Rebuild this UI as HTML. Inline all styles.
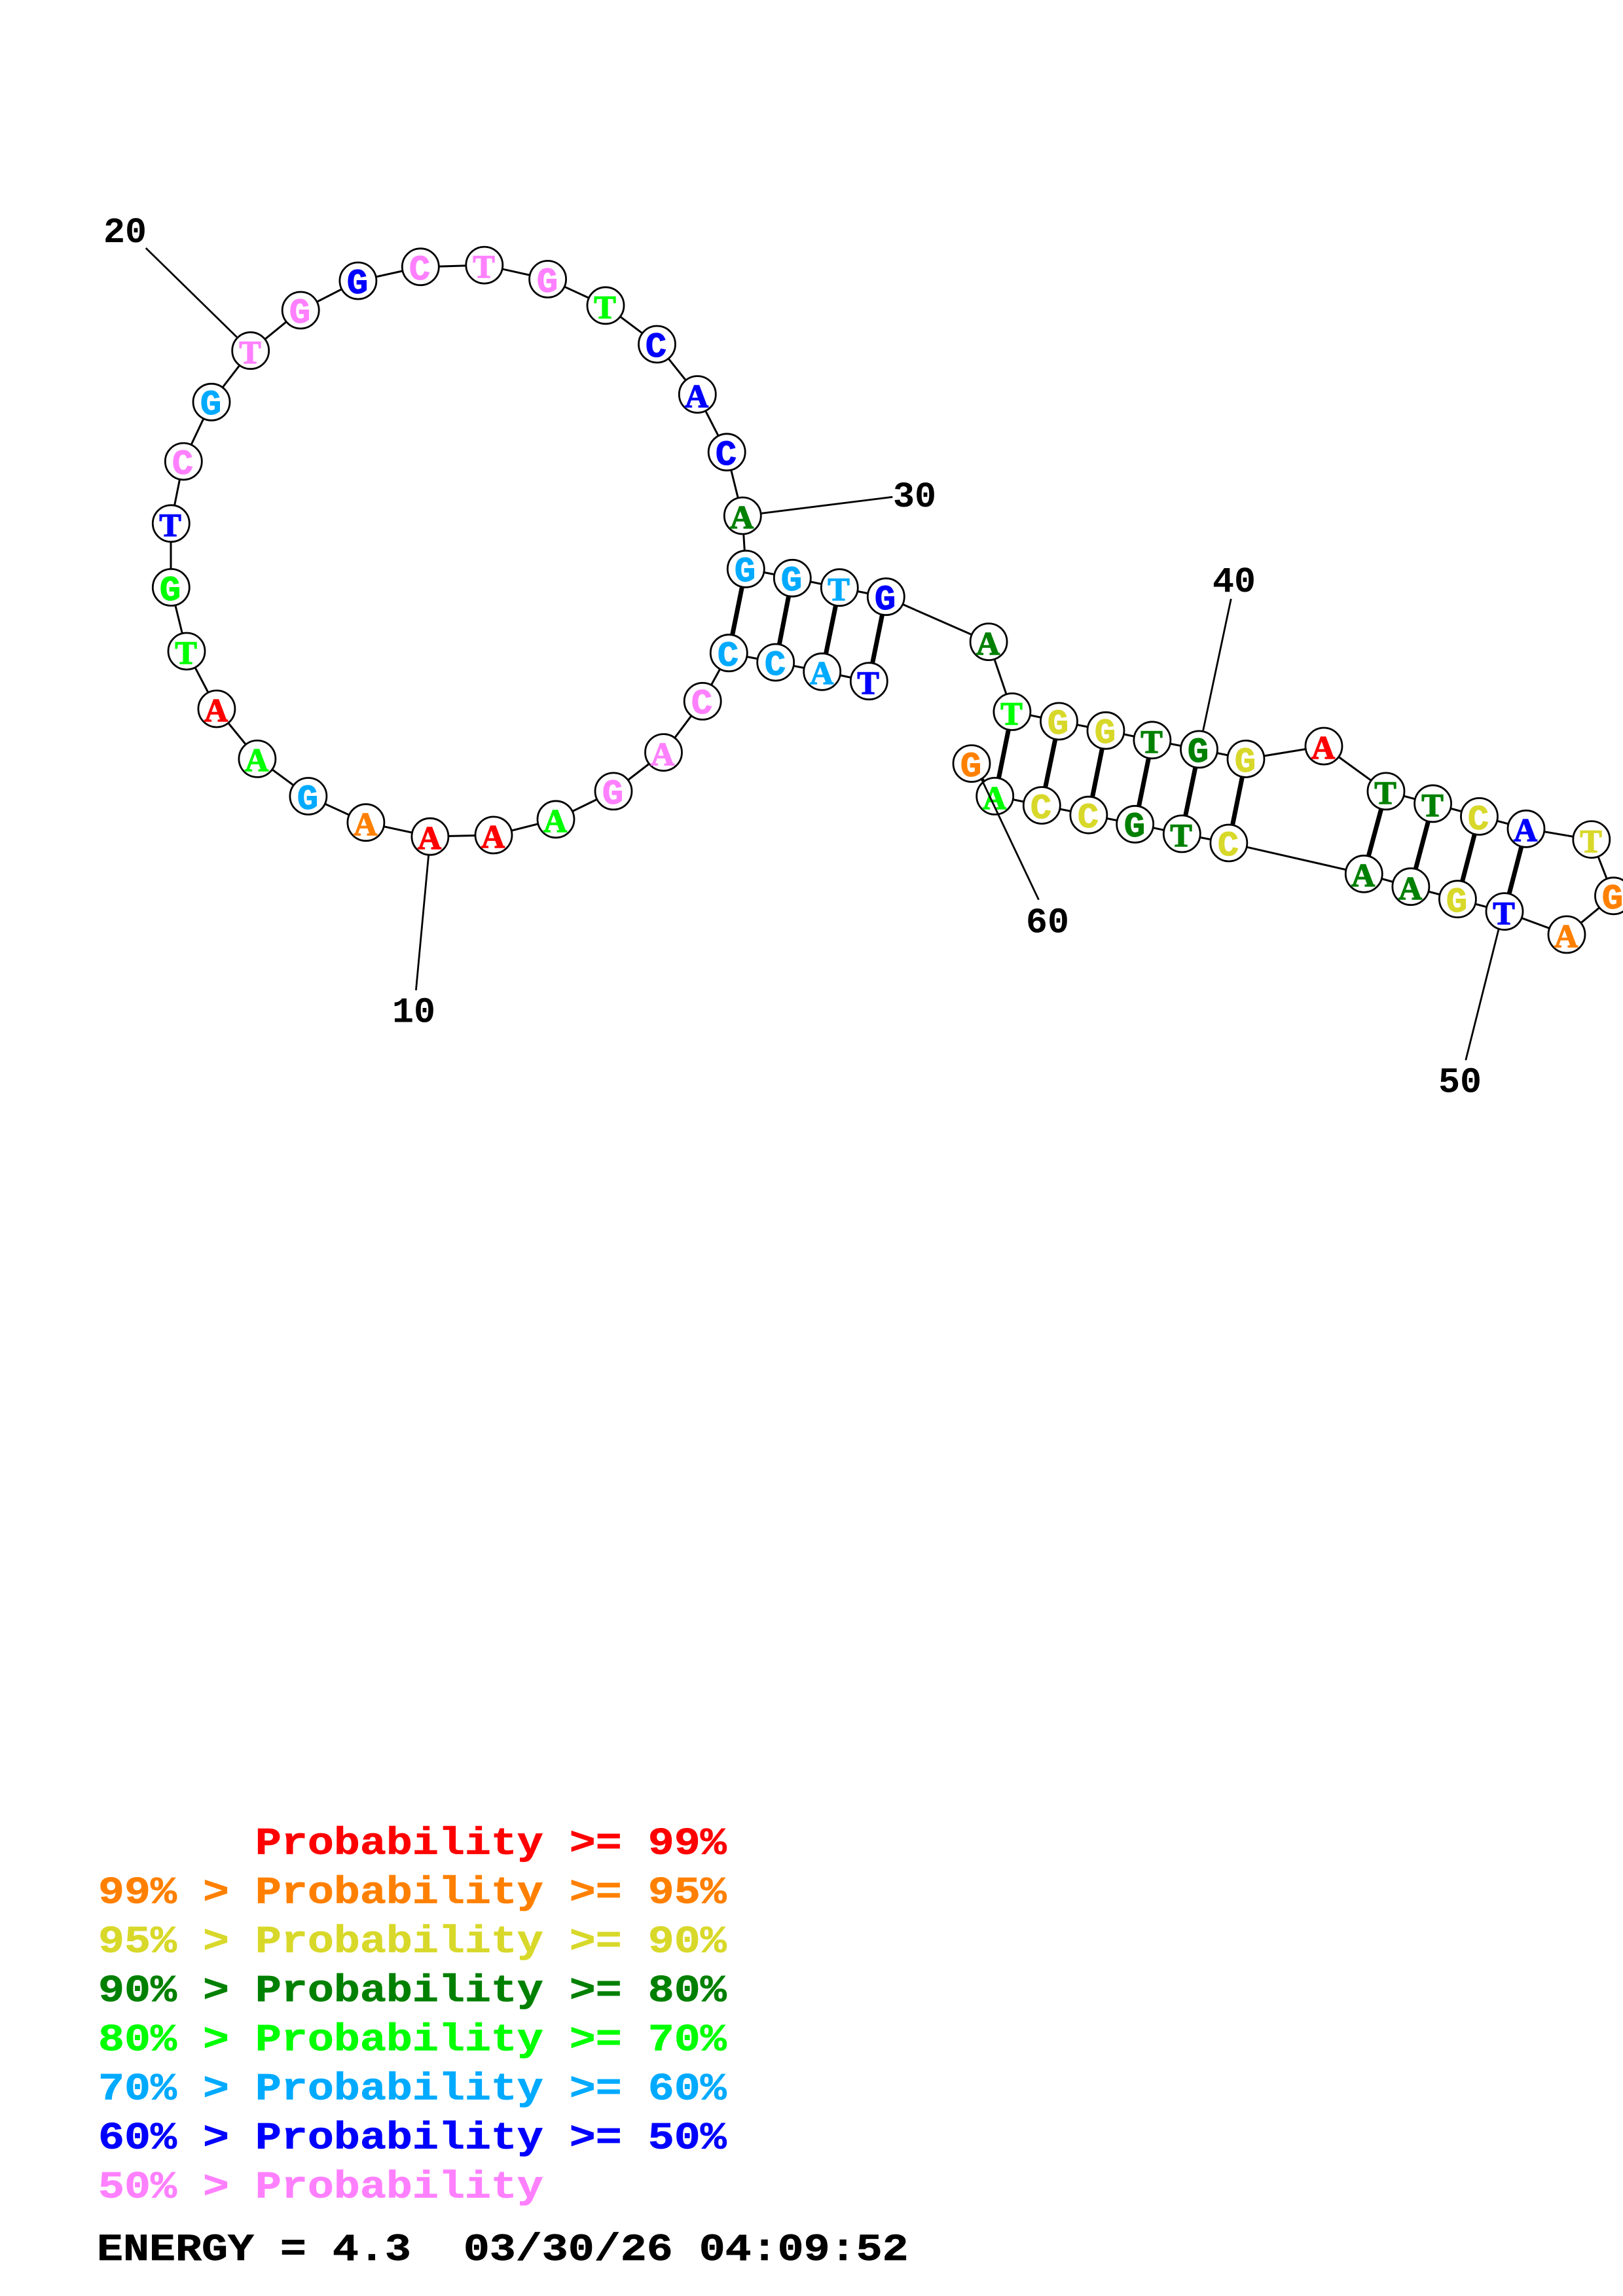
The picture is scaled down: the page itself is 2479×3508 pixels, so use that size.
<!DOCTYPE html>
<html><head><meta charset="utf-8"><style>
html,body{margin:0;padding:0;background:#fff}
svg{display:block}
text{font-family:"Liberation Mono",monospace;font-weight:bold;white-space:pre}
.n text{font-size:54px;text-anchor:middle;stroke-width:1px}
.n text.s{font-family:"Liberation Serif",serif;font-size:50px;stroke-width:1.4px}
.l text{font-size:55px;fill:#000}
.g text{font-size:66.65px;stroke-width:.8px}
.n circle{fill:#fff;stroke:#000;stroke-width:2.8}
</style></head><body>
<svg xmlns="http://www.w3.org/2000/svg" width="2479" height="3508" viewBox="0 0 2479 3508">
<rect width="2479" height="3508" fill="#fff"/>
<polyline fill="none" stroke="#000" stroke-width="3" points="1327,1041 1256,1026 1185,1012 1113,998 1073,1071 1013.5,1150 937,1209 849,1252 754,1276 657,1278 559,1257 471,1216.5 393,1159 331,1083 285,995 261,897 261,800 280,705 323,614 383,536 459,474 547,429 642,408 740,405 837,426.5 925,467 1003.5,526 1065,603 1110,691 1134,788 1139,869 1210,883 1282,898 1353,912 1510,981 1546,1087 1617.5,1102 1689,1116 1760,1131 1831.5,1145 1903,1159.5 2022,1140 2117,1209 2188.6,1228 2259.5,1247 2331,1266 2431,1283 2464.5,1369 2393,1428 2298,1393 2226.4,1374 2155,1355 2083,1335 1877,1288 1805,1274 1734,1259 1663,1245 1591,1230.5 1520,1216 1484,1167"/>
<g stroke="#000" stroke-width="7">
<line x1="1139" y1="869" x2="1113" y2="998"/>
<line x1="1210" y1="883" x2="1185" y2="1012"/>
<line x1="1282" y1="898" x2="1256" y2="1026"/>
<line x1="1353" y1="912" x2="1327" y2="1041"/>
<line x1="1546" y1="1087" x2="1520" y2="1216"/>
<line x1="1617.5" y1="1102" x2="1591" y2="1230.5"/>
<line x1="1689" y1="1116" x2="1663" y2="1245"/>
<line x1="1760" y1="1131" x2="1734" y2="1259"/>
<line x1="1831.5" y1="1145" x2="1805" y2="1274"/>
<line x1="1903" y1="1159.5" x2="1877" y2="1288"/>
<line x1="2117" y1="1209" x2="2083" y2="1335"/>
<line x1="2188.6" y1="1228" x2="2155" y2="1355"/>
<line x1="2259.5" y1="1247" x2="2226.4" y2="1374"/>
<line x1="2331" y1="1266" x2="2298" y2="1393"/>
</g>
<g class="n">
<circle cx="1327.3" cy="1040.7" r="28"/><text class="s" x="1326" y="1060" fill="#0000ff" stroke="#0000ff">T</text>
<circle cx="1255.7" cy="1026.3" r="28"/><text class="s" x="1255" y="1045" fill="#00aaff" stroke="#00aaff">A</text>
<circle cx="1184.7" cy="1012" r="28"/><text x="1184" y="1031" fill="#00aaff" stroke="#00aaff">C</text>
<circle cx="1113.3" cy="997.7" r="28"/><text x="1112" y="1017" fill="#00aaff" stroke="#00aaff">C</text>
<circle cx="1073.2" cy="1071.4" r="28"/><text x="1072" y="1090" fill="#ff80ff" stroke="#ff80ff">C</text>
<circle cx="1013.5" cy="1149.6" r="28"/><text class="s" x="1012" y="1169" fill="#ff80ff" stroke="#ff80ff">A</text>
<circle cx="937" cy="1208.9" r="28"/><text x="936" y="1228" fill="#ff80ff" stroke="#ff80ff">G</text>
<circle cx="849" cy="1251.8" r="28"/><text class="s" x="848" y="1271" fill="#00ff00" stroke="#00ff00">A</text>
<circle cx="754" cy="1275.9" r="28"/><text class="s" x="753" y="1295" fill="#ff0000" stroke="#ff0000">A</text>
<circle cx="656.9" cy="1278.2" r="28"/><text class="s" x="656" y="1297" fill="#ff0000" stroke="#ff0000">A</text>
<circle cx="558.9" cy="1256.7" r="28"/><text class="s" x="558" y="1276" fill="#ff8000" stroke="#ff8000">A</text>
<circle cx="470.9" cy="1216.5" r="28"/><text x="470" y="1236" fill="#00aaff" stroke="#00aaff">G</text>
<circle cx="392.9" cy="1159.4" r="28"/><text class="s" x="392" y="1178" fill="#00ff00" stroke="#00ff00">A</text>
<circle cx="330.9" cy="1083" r="28"/><text class="s" x="330" y="1102" fill="#ff0000" stroke="#ff0000">A</text>
<circle cx="285" cy="995" r="28"/><text class="s" x="284" y="1014" fill="#00ff00" stroke="#00ff00">T</text>
<circle cx="261.3" cy="897.4" r="28"/><text x="260" y="917" fill="#00ff00" stroke="#00ff00">G</text>
<circle cx="261.3" cy="799.8" r="28"/><text class="s" x="260" y="819" fill="#0000ff" stroke="#0000ff">T</text>
<circle cx="280.3" cy="705" r="28"/><text x="279" y="724" fill="#ff80ff" stroke="#ff80ff">C</text>
<circle cx="323" cy="614.3" r="28"/><text x="322" y="633" fill="#00aaff" stroke="#00aaff">G</text>
<circle cx="382.7" cy="535.7" r="28"/><text class="s" x="382" y="555" fill="#ff80ff" stroke="#ff80ff">T</text>
<circle cx="459.2" cy="474" r="28"/><text x="458" y="493" fill="#ff80ff" stroke="#ff80ff">G</text>
<circle cx="546.9" cy="429" r="28"/><text x="546" y="448" fill="#0000ff" stroke="#0000ff">G</text>
<circle cx="642.3" cy="407.7" r="28"/><text x="641" y="427" fill="#ff80ff" stroke="#ff80ff">C</text>
<circle cx="739.8" cy="405.1" r="28"/><text class="s" x="739" y="424" fill="#ff80ff" stroke="#ff80ff">T</text>
<circle cx="836.6" cy="426.5" r="28"/><text x="836" y="446" fill="#ff80ff" stroke="#ff80ff">G</text>
<circle cx="925" cy="466.8" r="28"/><text class="s" x="924" y="486" fill="#00ff00" stroke="#00ff00">T</text>
<circle cx="1003.5" cy="526" r="28"/><text x="1002" y="545" fill="#0000ff" stroke="#0000ff">C</text>
<circle cx="1065.3" cy="602.6" r="28"/><text class="s" x="1064" y="622" fill="#0000ff" stroke="#0000ff">A</text>
<circle cx="1110.2" cy="690.8" r="28"/><text x="1109" y="710" fill="#0000ff" stroke="#0000ff">C</text>
<circle cx="1134.3" cy="788" r="28"/><text class="s" x="1133" y="807" fill="#008000" stroke="#008000">A</text>
<circle cx="1139.3" cy="869.3" r="28"/><text x="1138" y="888" fill="#00aaff" stroke="#00aaff">G</text>
<circle cx="1210.3" cy="883.3" r="28"/><text x="1209" y="902" fill="#00aaff" stroke="#00aaff">G</text>
<circle cx="1282.3" cy="897.7" r="28"/><text class="s" x="1281" y="917" fill="#00aaff" stroke="#00aaff">T</text>
<circle cx="1353.3" cy="911.7" r="28"/><text x="1352" y="931" fill="#0000ff" stroke="#0000ff">G</text>
<circle cx="1510.1" cy="980.6" r="28"/><text class="s" x="1509" y="1000" fill="#008000" stroke="#008000">A</text>
<circle cx="1545.9" cy="1087.4" r="28"/><text class="s" x="1545" y="1107" fill="#00ff00" stroke="#00ff00">T</text>
<circle cx="1617.5" cy="1102" r="28"/><text x="1616" y="1121" fill="#d8d82a" stroke="#d8d82a">G</text>
<circle cx="1689" cy="1116.2" r="28"/><text x="1688" y="1135" fill="#d8d82a" stroke="#d8d82a">G</text>
<circle cx="1759.9" cy="1130.8" r="28"/><text class="s" x="1759" y="1150" fill="#008000" stroke="#008000">T</text>
<circle cx="1831.5" cy="1144.9" r="28"/><text x="1830" y="1164" fill="#008000" stroke="#008000">G</text>
<circle cx="1903" cy="1159.5" r="28"/><text x="1902" y="1179" fill="#d8d82a" stroke="#d8d82a">G</text>
<circle cx="2022" cy="1140" r="28"/><text class="s" x="2021" y="1159" fill="#ff0000" stroke="#ff0000">A</text>
<circle cx="2117" cy="1208.9" r="28"/><text class="s" x="2116" y="1228" fill="#008000" stroke="#008000">T</text>
<circle cx="2188.6" cy="1227.8" r="28"/><text class="s" x="2188" y="1247" fill="#008000" stroke="#008000">T</text>
<circle cx="2259.5" cy="1247.4" r="28"/><text x="2258" y="1267" fill="#d8d82a" stroke="#d8d82a">C</text>
<circle cx="2331" cy="1266.3" r="28"/><text class="s" x="2330" y="1285" fill="#0000ff" stroke="#0000ff">A</text>
<circle cx="2430.8" cy="1282.6" r="28"/><text class="s" x="2430" y="1302" fill="#d8d82a" stroke="#d8d82a">T</text>
<circle cx="2464.5" cy="1368.8" r="28"/><text x="2463" y="1388" fill="#ff8000" stroke="#ff8000">G</text>
<circle cx="2393" cy="1427.9" r="28"/><text class="s" x="2392" y="1447" fill="#ff8000" stroke="#ff8000">A</text>
<circle cx="2298" cy="1392.6" r="28"/><text class="s" x="2297" y="1412" fill="#0000ff" stroke="#0000ff">T</text>
<circle cx="2226.4" cy="1373.7" r="28"/><text x="2225" y="1393" fill="#d8d82a" stroke="#d8d82a">G</text>
<circle cx="2154.9" cy="1354.7" r="28"/><text class="s" x="2154" y="1374" fill="#008000" stroke="#008000">A</text>
<circle cx="2083.3" cy="1335.2" r="28"/><text class="s" x="2082" y="1354" fill="#008000" stroke="#008000">A</text>
<circle cx="1876.9" cy="1288" r="28"/><text x="1876" y="1307" fill="#d8d82a" stroke="#d8d82a">C</text>
<circle cx="1805.3" cy="1273.9" r="28"/><text class="s" x="1804" y="1293" fill="#008000" stroke="#008000">T</text>
<circle cx="1733.7" cy="1259.3" r="28"/><text x="1733" y="1278" fill="#008000" stroke="#008000">G</text>
<circle cx="1662.9" cy="1245.2" r="28"/><text x="1662" y="1264" fill="#d8d82a" stroke="#d8d82a">C</text>
<circle cx="1591.3" cy="1230.5" r="28"/><text x="1590" y="1250" fill="#d8d82a" stroke="#d8d82a">C</text>
<circle cx="1519.7" cy="1216.4" r="28"/><text class="s" x="1519" y="1236" fill="#00ff00" stroke="#00ff00">A</text>
<circle cx="1484" cy="1166.6" r="28"/><text x="1483" y="1186" fill="#ff8000" stroke="#ff8000">G</text>
</g>
<g stroke="#000" stroke-width="2.8">
<line x1="654.6" y1="1307" x2="635.4" y2="1513"/>
<line x1="361.7" y1="515" x2="222.8" y2="379"/>
<line x1="1163.3" y1="784.3" x2="1363.3" y2="759.3"/>
<line x1="1837.7" y1="1116" x2="1880.3" y2="915"/>
<line x1="2289" y1="1420" x2="2238.8" y2="1619.8"/>
<line x1="1498.4" y1="1188.8" x2="1586.5" y2="1374.7"/>
</g>
<g class="l">
<text x="158" y="370">20</text>
<text x="599" y="1561.6">10</text>
<text x="1364" y="774">30</text>
<text x="1852" y="904">40</text>
<text x="2197" y="1668.6">50</text>
<text x="1567" y="1424.6">60</text>
</g>
<g class="g">
<text transform="translate(150,2832.6) scale(1,.87)" style="fill:#ff0000;stroke:#ff0000">      Probability &gt;= 99%</text>
<text transform="translate(150,2907.6) scale(1,.87)" style="fill:#ff8000;stroke:#ff8000">99% &gt; Probability &gt;= 95%</text>
<text transform="translate(150,2982.6) scale(1,.87)" style="fill:#d8d82a;stroke:#d8d82a">95% &gt; Probability &gt;= 90%</text>
<text transform="translate(150,3057.6) scale(1,.87)" style="fill:#008000;stroke:#008000">90% &gt; Probability &gt;= 80%</text>
<text transform="translate(150,3132.6) scale(1,.87)" style="fill:#00ff00;stroke:#00ff00">80% &gt; Probability &gt;= 70%</text>
<text transform="translate(150,3207.6) scale(1,.87)" style="fill:#00aaff;stroke:#00aaff">70% &gt; Probability &gt;= 60%</text>
<text transform="translate(150,3282.6) scale(1,.87)" style="fill:#0000ff;stroke:#0000ff">60% &gt; Probability &gt;= 50%</text>
<text transform="translate(150,3357.6) scale(1,.87)" style="fill:#ff80ff;stroke:#ff80ff">50% &gt; Probability</text>
<text transform="translate(148,3453) scale(1,.87)" style="fill:#000;stroke:#000">ENERGY = 4.3  03/30/26 04:09:52</text>
</g>
</svg>
</body></html>
